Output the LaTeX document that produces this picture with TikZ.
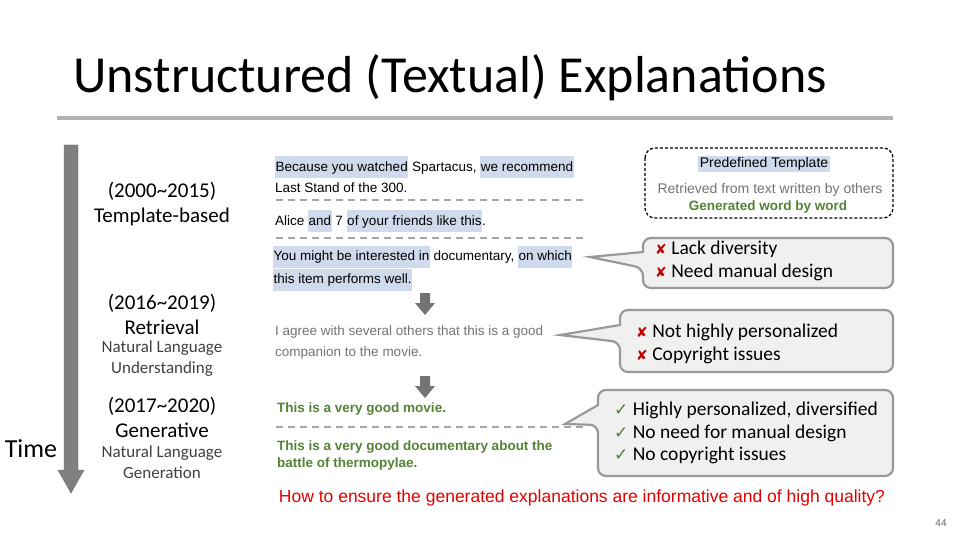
\documentclass[tikz,border=0pt]{standalone}
\usepackage{fontspec}
\setmainfont{Liberation Sans}
\newfontfamily\calfont{Carlito}
\newfontfamily\djv{DejaVu Sans}
\definecolor{hl}{RGB}{207,218,236}
\definecolor{gtxt}{RGB}{84,130,53}
\definecolor{xred}{RGB}{192,0,0}
\newcommand\hlt[1]{{\setlength\fboxsep{0.5pt}\colorbox{hl}{\strut #1}}}
\newcommand\xm{{\djv\color{xred}\fontsize{14}{14}\selectfont ✘}}
\newcommand\cm{{\djv\color{gtxt}\fontsize{17}{17}\selectfont ✓}}
\begin{document}
\begin{tikzpicture}[x=1pt,y=-1pt,
  mid/.style={anchor=west,font=\fontsize{13.5}{21}\selectfont,align=left,inner sep=0},
  lab/.style={font=\calfont\fontsize{21}{25}\selectfont},
  sub/.style={font=\calfont\fontsize{17}{21}\selectfont,text=black!75},
  sep/.style={draw=black!35,line width=2.2pt,dash pattern=on 7pt off 5pt},
  callout/.style={fill=black!6,draw=black!40,line width=2.2pt},
  ctext/.style={anchor=west,font=\calfont\fontsize{19.5}{22.5}\selectfont,align=left,inner sep=0},
  blk/.style={fill=black!55,draw=none}]
\useasboundingbox (0,0) rectangle (960,540);
\node[font=\calfont\fontsize{52}{55}\selectfont,anchor=west,inner sep=0] (title) at (73,78) {Unstructured (Textual) Explanations};
\draw[black!30,line width=4pt] (57,118) -- (893,118);
% time arrow
\draw[fill=black!50,draw=black!60] (64,145) -- (78,145) -- (78,470) -- (84,470) -- (71,493) -- (58,470) -- (64,470) -- cycle;
\node[font=\calfont\fontsize{26}{30}\selectfont] (time) at (31,449) {Time};
% left labels
\node[lab,align=center] (l1) at (162,204) {(2000\textasciitilde2015)\\Template-based};
\node[lab,align=center] (l2) at (162,314) {(2016\textasciitilde2019)\\Retrieval};
\node[sub,align=center] (l2b) at (162,359) {Natural Language\\Understanding};
\node[lab,align=center] (l3) at (162,417) {(2017\textasciitilde2020)\\Generative};
\node[sub,align=center] (l3b) at (162,462) {Natural Language\\Generation};
% middle texts
\node[mid] (t1) at (275,174) {\hlt{Because you watched} Spartacus, \hlt{we recommend}\\Last Stand of the 300.};
\draw[sep] (276,200) -- (585,200);
\node[mid] (t2) at (275,221) {Alice \hlt{and} 7 \hlt{of your friends like this}.};
\draw[sep] (276,238) -- (585,238);
\node[mid] (t3) at (273,268) {\hlt{You might be interested in} documentary, \hlt{on which}\\\hlt{this item performs well.}};
\node[mid,text=black!55] (t4) at (275,343) {I agree with several others that this is a good\\companion to the movie.};
\node[mid,text=gtxt,font=\bfseries\fontsize{13.5}{17}\selectfont] (t5) at (277,409) {This is a very good movie.};
\draw[sep] (276,427) -- (585,427);
\node[mid,text=gtxt,font=\bfseries\fontsize{13.5}{17}\selectfont] (t6) at (277,456) {This is a very good documentary about the\\battle of thermopylae.};
% block arrows
\path[blk] (420,293) -- (430,293) -- (430,303) -- (435,303) -- (425,315) -- (415,303) -- (420,303) -- cycle;
\path[blk] (420,376) -- (430,376) -- (430,386) -- (435,386) -- (425,398) -- (415,386) -- (420,386) -- cycle;
% dashed box
\draw[rounded corners=10pt,line width=1.3pt,dashed,dash pattern=on 3pt off 2pt] (645,148) rectangle (893,218);
\node[font=\fontsize{14}{16}\selectfont,fill=hl,inner sep=1.5pt] (pt) at (764,164) {Predefined Template};
\node[font=\fontsize{14}{16}\selectfont,text=black!55] (rt) at (770,190) {Retrieved from text written by others};
\node[font=\bfseries\fontsize{13.5}{16}\selectfont,text=gtxt] (gw) at (768,207) {Generated word by word};
% callouts
\draw[callout,rounded corners=8pt] (643,238) -- (893,238) -- (893,288) -- (643,288) -- (643,268) [sharp corners] -- (590,257) -- (643,252) [rounded corners=8pt] -- cycle;
\node[ctext] (c1) at (655,261) {\xm\ Lack diversity\\\xm\ Need manual design};
\draw[callout,rounded corners=8pt] (620,310) -- (893,310) -- (893,372) -- (620,372) -- (620,342) [sharp corners] -- (560,335) -- (620,325) [rounded corners=8pt] -- cycle;
\node[ctext] (c2) at (636,344) {\xm\ Not highly personalized\\\xm\ Copyright issues};
\draw[callout,rounded corners=8pt] (598,390) -- (893,390) -- (893,476) -- (598,476) -- (598,425) [sharp corners] -- (565,424) -- (598,405) [rounded corners=8pt] -- cycle;
\node[ctext] (c3) at (614,433) {\cm\ Highly personalized, diversified\\\cm\ No need for manual design\\\cm\ No copyright issues};
% bottom
\node[font=\fontsize{17.5}{20}\selectfont,text=red!90!black] (q) at (582,498) {How to ensure the generated explanations are informative and of high quality?};
\node[font=\fontsize{10}{12}\selectfont,text=black!60] (pg) at (941,523) {44};
\end{tikzpicture}
\end{document}
